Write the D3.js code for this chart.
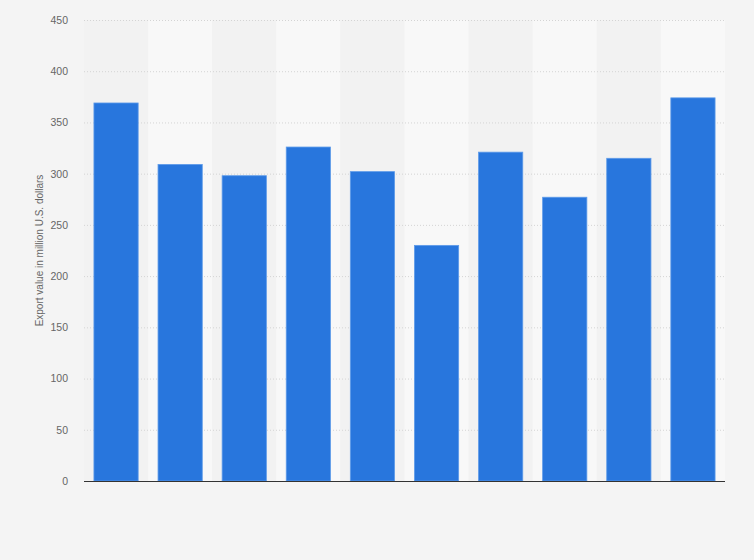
<!DOCTYPE html>
<html>
<head>
<meta charset="utf-8">
<script src="https://cdn.jsdelivr.net/npm/d3@7"></script>
<style>
  body { margin: 0; background: #f4f4f4; }
  svg { display: block; font-family: "Liberation Sans", Arial, sans-serif; }
</style>
</head>
<body>
<svg id="chart" width="754" height="560"></svg>
<script>
// categories have no visible labels in the picture
const categories = ["1", "2", "3", "4", "5", "6", "7", "8", "9", "10"];
const values = [369, 309, 298, 326, 302, 230, 321, 277, 315, 374];
const yTicks = [0, 50, 100, 150, 200, 250, 300, 350, 400, 450];
const yLabel = "Export value in million U.S. dollars";

const svg = d3.select("#chart");
const margin = { top: 20, right: 29, bottom: 79, left: 84 };
const width = 754 - margin.left - margin.right;
const height = 560 - margin.top - margin.bottom;

svg.append("rect")
  .attr("width", 754).attr("height", 560)
  .attr("fill", "#f4f4f4");

const g = svg.append("g")
  .attr("transform", `translate(${margin.left},${margin.top})`);

const x = d3.scaleBand()
  .domain(categories)
  .range([0, width])
  .paddingInner(0.31)
  .paddingOuter(0.155);

const bands = d3.scaleBand().domain(categories).range([0, width]);

const y = d3.scaleLinear()
  .domain([0, 450])
  .range([height, 0]);

// alternating column shading
g.selectAll("rect.band")
  .data(categories)
  .enter().append("rect")
  .attr("class", "band")
  .attr("x", d => bands(d))
  .attr("y", 0)
  .attr("width", bands.bandwidth())
  .attr("height", height)
  .attr("fill", (d, i) => i % 2 === 0 ? "#f2f2f2" : "#f8f8f8");

// gridlines
g.selectAll("line.grid")
  .data(yTicks.filter(t => t > 0))
  .enter().append("line")
  .attr("class", "grid")
  .attr("x1", 0).attr("x2", width)
  .attr("y1", d => y(d) + 0.5).attr("y2", d => y(d) + 0.5)
  .attr("stroke", "#d4d4d4")
  .attr("stroke-dasharray", "1,2");

// y axis
const yAxis = g.append("g")
  .call(d3.axisLeft(y).tickValues(yTicks).tickSize(0).tickPadding(16));
yAxis.select(".domain").remove();
yAxis.selectAll("text")
  .attr("fill", "#666")
  .attr("font-size", "10.5px");

svg.append("text")
  .attr("transform", `translate(43,${margin.top + height / 2}) rotate(-90)`)
  .attr("text-anchor", "middle")
  .attr("fill", "#666")
  .attr("font-size", "10px")
  .text(yLabel);

// bars
g.selectAll("rect.bar")
  .data(values)
  .enter().append("rect")
  .attr("class", "bar")
  .attr("x", (d, i) => x(categories[i]))
  .attr("y", d => y(d))
  .attr("width", x.bandwidth())
  .attr("height", d => height - y(d))
  .attr("fill", "#2876dd")
  .attr("stroke", "#5e9be9")
  .attr("stroke-width", 0.8);

// baseline
g.append("line")
  .attr("x1", 0).attr("x2", width)
  .attr("y1", height + 0.5).attr("y2", height + 0.5)
  .attr("stroke", "#333")
  .attr("stroke-width", 1.2);
</script>
</body>
</html>
